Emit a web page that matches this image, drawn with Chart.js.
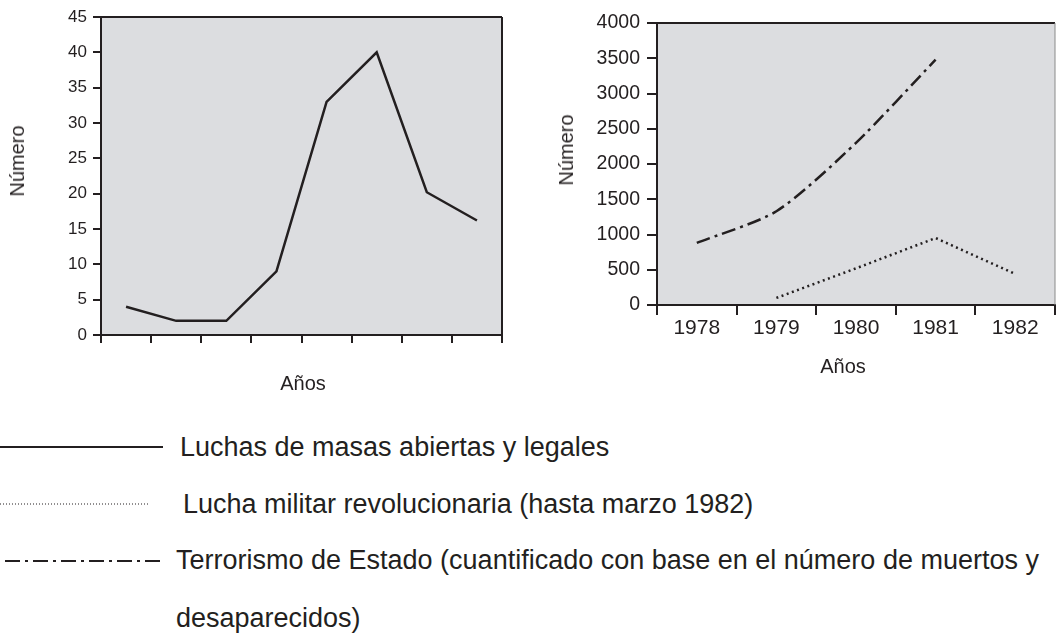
<!DOCTYPE html>
<html>
<head>
<meta charset="utf-8">
<script src="https://cdn.jsdelivr.net/npm/chart.js@4"></script>
<style>
  html, body { margin: 0; padding: 0; background: #fff; }
  body { width: 1056px; height: 639px; position: relative; overflow: hidden; font-family: 'Liberation Sans', Arial, sans-serif; color: #231f20; }
  #leftBox  { position: absolute; left: 0;   top: 0; width: 520px; height: 400px; }
  #rightBox { position: absolute; left: 540px; top: 0; width: 516px; height: 380px; }
  .leg { position: absolute; left: 0; height: 30px; font-size: 27px; line-height: 30px; white-space: nowrap; }
  .leg svg { position: absolute; left: 0; top: 0; }
  .leg span { position: absolute; top: 0; }
  .ttl { position: absolute; font-size: 20px; line-height: 24px; white-space: nowrap; transform: translate(-50%, -50%); }
  .ttl.rot { transform: translate(-50%, -50%) rotate(-90deg); }
</style>
</head>
<body>
<div id="leftBox"><canvas id="chartLeft"></canvas></div>
<div id="rightBox"><canvas id="chartRight"></canvas></div>

<!-- títulos de ejes -->
<div class="ttl rot" style="left:17px;top:161px">Número</div>
<div class="ttl" style="left:303px;top:383px">Años</div>
<div class="ttl rot" style="left:566px;top:150px">Número</div>
<div class="ttl" style="left:843px;top:366px">Años</div>

<div class="leg" style="top:432px;width:1056px">
  <svg width="170" height="30"><line x1="0" y1="15" x2="163" y2="15" stroke="#231f20" stroke-width="2"/></svg>
  <span style="left:180px">Luchas de masas abiertas y legales</span>
</div>
<div class="leg" style="top:489px;width:1056px">
  <svg width="170" height="30"><line x1="0" y1="15" x2="150" y2="15" stroke="#231f20" stroke-width="1" stroke-dasharray="1,2"/></svg>
  <span style="left:183px">Lucha militar revolucionaria (hasta marzo 1982)</span>
</div>
<div class="leg" style="top:545px;width:1056px">
  <svg width="170" height="30"><line x1="5" y1="16" x2="163" y2="16" stroke="#231f20" stroke-width="2" stroke-dasharray="15,5,3,5"/></svg>
  <span style="left:176px">Terrorismo de Estado (cuantificado con base en el número de muertos y</span>
</div>
<div class="leg" style="top:603px;width:1056px">
  <span style="left:176px">desaparecidos)</span>
</div>

<script>
// datos
const leftCats   = ['', '', '', '', '', '', '', ''];   // años sin rotular en el original
const masas      = [4, 2, 2, 9, 33, 40, 20.2, 16.2];
const leftTicks  = [0, 5, 10, 15, 20, 25, 30, 35, 40, 45];

const years      = ['1978', '1979', '1980', '1981', '1982'];
const terrorismo = [880, 1330, 2300, 3480, null];
const militar    = [null, 100, 520, 950, 440];
const rightTicks = [0, 500, 1000, 1500, 2000, 2500, 3000, 3500, 4000];

const INK  = '#231f20';
const FILL = '#dcdde0';
Chart.defaults.font.family = "'Liberation Sans', Arial, sans-serif";
Chart.defaults.color = INK;

// fondo gris + borde superior/derecho del área
const plotBox = {
  id: 'plotBox',
  beforeDraw(chart, args, opts) {
    const { ctx, chartArea: a } = chart;
    ctx.save();
    ctx.fillStyle = FILL;
    ctx.fillRect(a.left, a.top, a.right - a.left, a.bottom - a.top);
    ctx.restore();
  },
  afterDraw(chart, args, opts) {
    const { ctx, chartArea: a } = chart;
    ctx.save();
    ctx.strokeStyle = INK;
    ctx.lineWidth = 2;
    ctx.beginPath();
    ctx.moveTo(a.left, a.top);
    ctx.lineTo(a.right, a.top);
    ctx.stroke();
    ctx.strokeStyle = opts.rightColor || INK;
    ctx.lineWidth = opts.rightWidth || 2;
    ctx.beginPath();
    ctx.moveTo(a.right, a.top);
    ctx.lineTo(a.right, a.bottom);
    ctx.stroke();
    ctx.restore();
  }
};

function yScale(max, fontSize, axisW, tickLen, pad, ticksList) {
  return {
    min: 0, max,
    afterFit: s => { s.width = axisW; },
    afterBuildTicks: s => { s.ticks = ticksList.map(v => ({ value: v })); },
    ticks: { font: { size: fontSize }, padding: pad, color: INK, callback: v => String(v) },
    grid: { drawOnChartArea: false, drawTicks: true, tickLength: tickLen, color: INK, lineWidth: 2 },
    border: { display: true, color: INK, width: 2 },
  };
}

function renderLeft() {
  const ctx = document.getElementById('chartLeft');
  new Chart(ctx, {
    type: 'line',
    data: {
      labels: leftCats,
      datasets: [{
        data: masas,
        borderColor: INK,
        borderWidth: 2.5,
        pointRadius: 0,
        tension: 0,
      }],
    },
    options: {
      responsive: true,
      maintainAspectRatio: false,
      animation: false,
      layout: { padding: { top: 17, right: 18, left: 0, bottom: 0 } },
      plugins: { legend: { display: false }, tooltip: { enabled: false }, plotBox: {} },
      scales: {
        x: {
          offset: true,
          afterFit: s => { s.height = 65; },
          ticks: { display: false },
          grid: { offset: true, drawOnChartArea: false, drawTicks: true, tickLength: 8, color: INK, lineWidth: 2 },
          border: { display: true, color: INK, width: 2 },
        },
        y: yScale(45, 17, 101, 8, 6, leftTicks),
      },
    },
    plugins: [plotBox],
  });
}

function renderRight() {
  const ctx = document.getElementById('chartRight');
  new Chart(ctx, {
    type: 'line',
    data: {
      labels: years,
      datasets: [
        {
          data: terrorismo,
          borderColor: INK,
          borderWidth: 2.5,
          borderDash: [14, 5, 3, 5],
          pointRadius: 0,
          tension: 0.25,
          spanGaps: false,
        },
        {
          data: militar,
          borderColor: INK,
          borderWidth: 2.5,
          borderDash: [2, 3.5],
          pointRadius: 0,
          tension: 0,
          spanGaps: false,
        },
      ],
    },
    options: {
      responsive: true,
      maintainAspectRatio: false,
      animation: false,
      layout: { padding: { top: 23, right: 1, left: 0, bottom: 0 } },
      plugins: { legend: { display: false }, tooltip: { enabled: false }, plotBox: { rightColor: '#8a8a8a', rightWidth: 1 } },
      scales: {
        x: {
          offset: true,
          afterFit: s => { s.height = 75; },
          ticks: { font: { size: 21 }, padding: 1, color: INK, maxRotation: 0 },
          grid: { offset: true, drawOnChartArea: false, drawTicks: true, tickLength: 10, color: INK, lineWidth: 2 },
          border: { display: true, color: INK, width: 2 },
        },
        y: yScale(4000, 19.5, 117, 10, 7, rightTicks),
      },
    },
    plugins: [plotBox],
  });
}

renderLeft();
renderRight();
</script>
</body>
</html>
